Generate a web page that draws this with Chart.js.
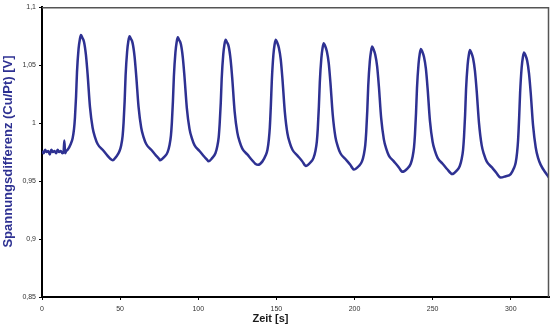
<!DOCTYPE html>
<html>
<head>
<meta charset="utf-8">
<script src="https://cdn.jsdelivr.net/npm/chart.js@4/dist/chart.umd.min.js"></script>
<style>
html, body { margin: 0; padding: 0; background: #fff; }
#wrap { width: 551px; height: 328px; }
</style>
</head>
<body>
<div id="wrap"><canvas id="kurve" width="551" height="328"></canvas></div>
<script>
// Messreihe Spannungsdifferenz Cu/Pt ueber der Zeit (Stuetzpunkte je Zyklus)
var zeit = [
	0, 1, 2, 3, 4, 5, 6, 7, 8, 9, 10, 11, 12, 13, 13.8, 14.3, 14.8, 15.5, 16.4,
	18.4, 19.6, 20.5, 21.1, 21.8, 22.4, 23.4, 24.2, 24.9,
	25.7, 26.9, 28.1, 29.2, 30.7, 32.4, 33.9, 35.6, 38.8, 41.9, 43.9, 45.3,
	47.5, 49.5, 50.7, 51.6, 52.2, 52.9, 53.5, 54.5, 55.3, 56.0,
	56.8, 58.0, 59.2, 60.3, 61.8, 63.5, 65.0, 66.7, 69.9, 73.0, 75.0, 75.5,
	78.4, 80.4, 81.6, 82.5, 83.1, 83.8, 84.4, 85.4, 86.2, 86.9,
	87.7, 88.9, 90.1, 91.2, 92.7, 94.4, 95.9, 97.6, 100.8, 103.9, 105.9, 106.5,
	109.0, 111.0, 112.2, 113.1, 113.7, 114.4, 115.0, 116.0, 116.8, 117.5,
	118.3, 119.5, 120.7, 121.8, 123.3, 125.0, 126.5, 128.2, 131.4, 134.5, 136.5, 138.3,
	141.1, 143.1, 144.3, 145.2, 145.8, 146.5, 147.1, 148.1, 148.9, 149.6,
	150.4, 151.6, 152.8, 153.9, 155.4, 157.1, 158.6, 160.3, 163.5, 166.6, 168.0, 168.8,
	171.8, 173.8, 175.0, 175.9, 176.5, 177.2, 177.8, 178.8, 179.6, 180.3,
	181.1, 182.3, 183.5, 184.6, 186.1, 187.8, 189.3, 191.0, 194.2, 197.3, 198.8, 199.5,
	202.8, 204.8, 206.0, 206.9, 207.5, 208.2, 208.8, 209.8, 210.6, 211.3,
	212.1, 213.3, 214.5, 215.6, 217.1, 218.8, 220.3, 222.0, 225.2, 228.3, 229.8, 230.5,
	234.0, 236.0, 237.2, 238.1, 238.7, 239.4, 240.0, 241.0, 241.8, 242.5,
	243.3, 244.5, 245.7, 246.8, 248.3, 250.0, 251.5, 253.2, 256.4, 259.5, 261.5, 262.5,
	265.4, 267.4, 268.6, 269.5, 270.1, 270.8, 271.4, 272.4, 273.2, 273.9,
	274.7, 275.9, 277.1, 278.2, 279.7, 281.4, 282.9, 284.6, 287.8, 290.9, 292.5, 293.5,
	296.5, 300.0, 302.0, 303.2, 304.1, 304.7, 305.4, 306.0, 307.0, 307.8, 308.5,
	309.3, 310.5, 311.7, 312.8, 314.3, 316.0, 317.5, 319.2, 322.4, 324.5
];
var spannung = [
	0.976, 0.974, 0.977, 0.975, 0.976, 0.973, 0.977, 0.975, 0.976, 0.974, 0.977, 0.975, 0.976, 0.974, 0.975, 0.985, 0.974, 0.976, 0.977,
	0.982, 0.987, 0.995, 1.005, 1.023, 1.044, 1.064, 1.072, 1.076,
	1.074, 1.070, 1.059, 1.042, 1.014, 0.996, 0.988, 0.982, 0.977, 0.972, 0.969, 0.968,
	0.971, 0.9755, 0.981, 0.989, 1.000, 1.019, 1.041, 1.062, 1.071, 1.075,
	1.073, 1.069, 1.058, 1.041, 1.014, 0.996, 0.988, 0.982, 0.977, 0.972, 0.969, 0.968,
	0.971, 0.975, 0.981, 0.989, 1.000, 1.019, 1.040, 1.061, 1.070, 1.074,
	1.072, 1.068, 1.057, 1.040, 1.013, 0.995, 0.987, 0.981, 0.976, 0.971, 0.968, 0.967,
	0.970, 0.974, 0.980, 0.988, 0.999, 1.017, 1.038, 1.059, 1.068, 1.072,
	1.070, 1.066, 1.055, 1.038, 1.010, 0.992, 0.984, 0.978, 0.973, 0.968, 0.965, 0.964,
	0.967, 0.972, 0.977, 0.986, 0.996, 1.016, 1.037, 1.059, 1.068, 1.072,
	1.070, 1.065, 1.055, 1.038, 1.010, 0.991, 0.983, 0.977, 0.972, 0.967, 0.964, 0.963,
	0.966, 0.970, 0.976, 0.984, 0.995, 1.014, 1.035, 1.056, 1.065, 1.069,
	1.067, 1.062, 1.052, 1.035, 1.007, 0.988, 0.980, 0.974, 0.969, 0.964, 0.961, 0.960,
	0.963, 0.967, 0.973, 0.981, 0.992, 1.011, 1.032, 1.053, 1.062, 1.066,
	1.064, 1.059, 1.049, 1.032, 1.004, 0.986, 0.978, 0.972, 0.967, 0.962, 0.959, 0.958,
	0.961, 0.965, 0.971, 0.979, 0.990, 1.009, 1.030, 1.051, 1.060, 1.064,
	1.062, 1.057, 1.047, 1.030, 1.002, 0.984, 0.976, 0.970, 0.965, 0.960, 0.957, 0.956,
	0.959, 0.963, 0.969, 0.977, 0.988, 1.007, 1.029, 1.050, 1.059, 1.063,
	1.061, 1.056, 1.045, 1.028, 1.000, 0.981, 0.973, 0.967, 0.962, 0.957, 0.954, 0.953,
	0.954, 0.956, 0.961, 0.966, 0.975, 0.985, 1.005, 1.026, 1.048, 1.057, 1.061,
	1.059, 1.054, 1.043, 1.026, 0.998, 0.979, 0.970, 0.964, 0.957, 0.953
];
var xTicks = [0, 50, 100, 150, 200, 250, 300];
var yTicks = [0.85, 0.9, 0.95, 1, 1.05, 1.1];

var punkte = [];
for (var i = 0; i < zeit.length; i++) {
	punkte.push({ x: zeit[i], y: spannung[i] });
}

function komma(v) {
	return String(Math.round(v * 100) / 100).replace('.', ',');
}

// Rahmen oben/rechts und Achsentitel
var rahmen = {
	id: 'rahmen',
	afterDraw: function(chart) {
		var ctx = chart.ctx;
		var a = chart.chartArea;
		ctx.save();
		ctx.strokeStyle = '#555';
		ctx.lineWidth = 1.5;
		ctx.beginPath();
		ctx.moveTo(a.left, a.top + 0.5);
		ctx.lineTo(a.right - 0.5, a.top + 0.5);
		ctx.lineTo(a.right - 0.5, a.bottom);
		ctx.stroke();

		ctx.fillStyle = '#1a1a1a';
		ctx.font = 'bold 11px "Liberation Sans", Arial, sans-serif';
		ctx.textAlign = 'center';
		ctx.textBaseline = 'alphabetic';
		ctx.fillText('Zeit [s]', 270.5, 322);

		ctx.translate(11.5, 151.5);
		ctx.rotate(-Math.PI / 2);
		ctx.fillStyle = '#2e3192';
		ctx.font = 'bold 13px "Liberation Sans", Arial, sans-serif';
		ctx.fillText('Spannungsdifferenz (Cu/Pt) [V]', 0, 0);
		ctx.restore();
	}
};

var kurve = new Chart(document.getElementById('kurve').getContext('2d'), {
	type: 'line',
	data: {
		datasets: [{
			data: punkte,
			borderColor: '#2e3192',
			borderWidth: 2.5,
			pointRadius: 0,
			fill: false,
			cubicInterpolationMode: 'monotone'
		}]
	},
	options: {
		responsive: false,
		animation: false,
		devicePixelRatio: 1,
		layout: { padding: { top: 2, right: 2, left: 0, bottom: 0 } },
		plugins: { legend: { display: false }, tooltip: { enabled: false } },
		scales: {
			x: {
				type: 'linear',
				min: 0,
				max: 324.5,
				afterBuildTicks: function(scale) {
					scale.ticks = xTicks.map(function(v) { return { value: v }; });
				},
				afterFit: function(scale) { scale.height = 31; },
				grid: { drawOnChartArea: false, drawTicks: true, tickLength: 3, color: '#000' },
				border: { display: true, color: '#000', width: 2 },
				ticks: {
					padding: 5,
					color: '#333',
					font: { family: '"Liberation Sans", Arial, sans-serif', size: 7 },
					callback: function(v) { return String(v); }
				}
			},
			y: {
				min: 0.85,
				max: 1.1,
				afterBuildTicks: function(scale) {
					scale.ticks = yTicks.map(function(v) { return { value: v }; });
				},
				afterFit: function(scale) { scale.width = 42; },
				grid: { drawOnChartArea: false, drawTicks: true, tickLength: 3, color: '#000' },
				border: { display: true, color: '#000', width: 2 },
				ticks: {
					padding: 3,
					color: '#333',
					font: { family: '"Liberation Sans", Arial, sans-serif', size: 7 },
					callback: function(v) { return komma(v); }
				}
			}
		}
	},
	plugins: [rahmen]
});
</script>
</body>
</html>
